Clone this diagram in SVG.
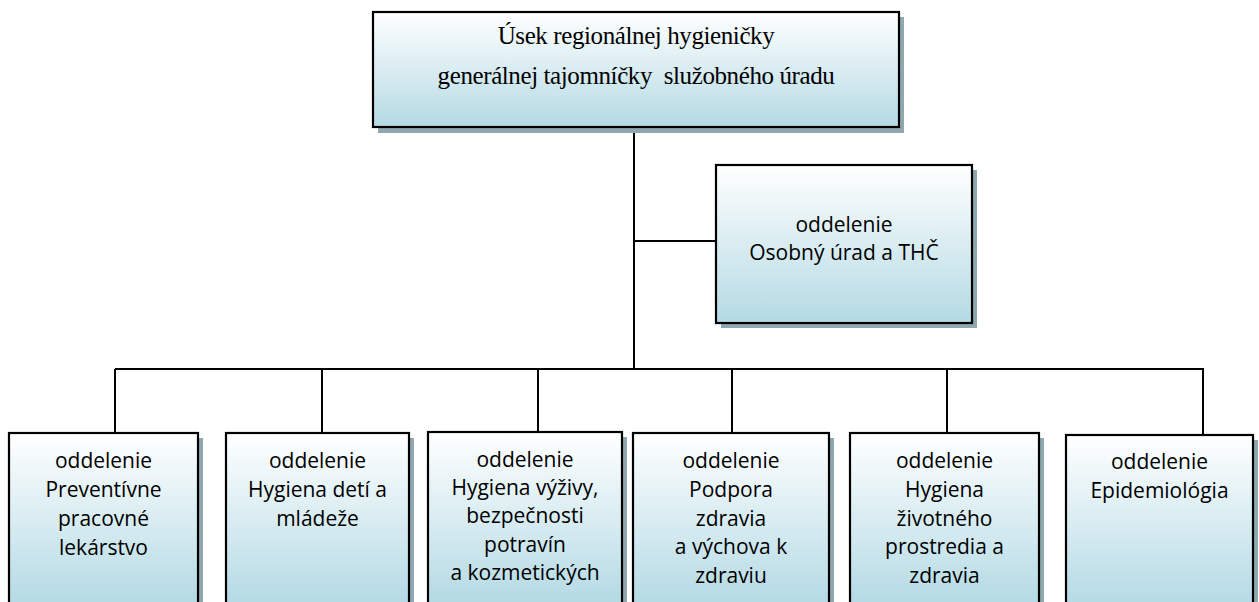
<svg xmlns="http://www.w3.org/2000/svg" width="1259" height="602" viewBox="0 0 1259 602">
  <defs>
    <linearGradient id="g" x1="0" y1="0" x2="0" y2="1">
      <stop offset="0" stop-color="#ffffff"/>
      <stop offset="1" stop-color="#b4dae4"/>
    </linearGradient>
    <linearGradient id="gb" x1="0" y1="0" x2="0" y2="1">
      <stop offset="0" stop-color="#ffffff"/>
      <stop offset="1" stop-color="#b0d8e3"/>
    </linearGradient>
  </defs>
  <style>
    .box { fill: url(#g); stroke: #000; stroke-width: 2.2; }
    .boxb { fill: url(#gb); stroke: #000; stroke-width: 2.2; }
    .sh { fill: #8fa8b0; }
    .ln { fill: none; stroke: #000; stroke-width: 2; }
    .serif { font-family: "Liberation Serif", "Times New Roman", serif; font-size: 25px; letter-spacing: -0.4px; fill: #000; text-anchor: middle; white-space: pre; }
    .sans { font-family: "Open Sans", "Liberation Sans", sans-serif; font-size: 21px; fill: #000; text-anchor: middle; }
  </style>

  <g id="connectors">
    <path class="ln" d="M634 128 V369"/>
    <path class="ln" d="M634 241 H716"/>
    <path class="ln" d="M115 369 H1204"/>
    <path class="ln" d="M115 369 V433"/>
    <path class="ln" d="M322 369 V433"/>
    <path class="ln" d="M538 369 V432"/>
    <path class="ln" d="M732 369 V433"/>
    <path class="ln" d="M947 369 V433"/>
    <path class="ln" d="M1203 369 V435"/>
  </g>

  <g id="n_top">
    <rect class="sh" x="378" y="17" width="526" height="116"/>
    <rect class="box" x="373" y="12" width="526" height="115"/>
    <text class="serif" x="636" y="44">Úsek regionálnej hygieničky</text>
    <text class="serif" x="636" y="84">generálnej tajomníčky  služobného úradu</text>
  </g>

  <g id="n_osobny">
    <rect class="sh" x="721" y="170" width="256" height="158"/>
    <rect class="box" x="716" y="165" width="256" height="158"/>
    <text class="sans" x="844" y="232">oddelenie</text>
    <text class="sans" x="844" y="260">Osobný úrad a THČ</text>
  </g>

  <g id="n_prev">
    <rect class="sh" x="14" y="438" width="189" height="180"/>
    <rect class="boxb" x="9" y="433" width="189" height="180"/>
    <text class="sans" x="103.5" y="468">oddelenie</text>
    <text class="sans" x="103.5" y="497">Preventívne</text>
    <text class="sans" x="103.5" y="526">pracovné</text>
    <text class="sans" x="103.5" y="555">lekárstvo</text>
  </g>

  <g id="n_deti">
    <rect class="sh" x="231" y="438" width="183" height="180"/>
    <rect class="boxb" x="226" y="433" width="183" height="180"/>
    <text class="sans" x="317.5" y="468">oddelenie</text>
    <text class="sans" x="317.5" y="497">Hygiena detí a</text>
    <text class="sans" x="317.5" y="526">mládeže</text>
  </g>

  <g id="n_vyziva">
    <rect class="sh" x="433" y="437" width="194" height="180"/>
    <rect class="boxb" x="428" y="432" width="194" height="180"/>
    <text class="sans" x="525" y="467">oddelenie</text>
    <text class="sans" x="525" y="495">Hygiena výživy,</text>
    <text class="sans" x="525" y="523">bezpečnosti</text>
    <text class="sans" x="525" y="552">potravín</text>
    <text class="sans" x="525" y="580">a kozmetických</text>
  </g>

  <g id="n_podpora">
    <rect class="sh" x="638" y="438" width="196" height="180"/>
    <rect class="boxb" x="633" y="433" width="196" height="180"/>
    <text class="sans" x="731" y="468">oddelenie</text>
    <text class="sans" x="731" y="497">Podpora</text>
    <text class="sans" x="731" y="526">zdravia</text>
    <text class="sans" x="731" y="554">a výchova k</text>
    <text class="sans" x="731" y="583">zdraviu</text>
  </g>

  <g id="n_zivotne">
    <rect class="sh" x="855" y="438" width="189" height="180"/>
    <rect class="boxb" x="850" y="433" width="189" height="180"/>
    <text class="sans" x="944.5" y="468">oddelenie</text>
    <text class="sans" x="944.5" y="497">Hygiena</text>
    <text class="sans" x="944.5" y="526">životného</text>
    <text class="sans" x="944.5" y="554">prostredia a</text>
    <text class="sans" x="944.5" y="583">zdravia</text>
  </g>

  <g id="n_epid">
    <rect class="sh" x="1071" y="440" width="187" height="180"/>
    <rect class="boxb" x="1066" y="435" width="187" height="180"/>
    <text class="sans" x="1159.5" y="469">oddelenie</text>
    <text class="sans" x="1159.5" y="498">Epidemiológia</text>
  </g>
</svg>
